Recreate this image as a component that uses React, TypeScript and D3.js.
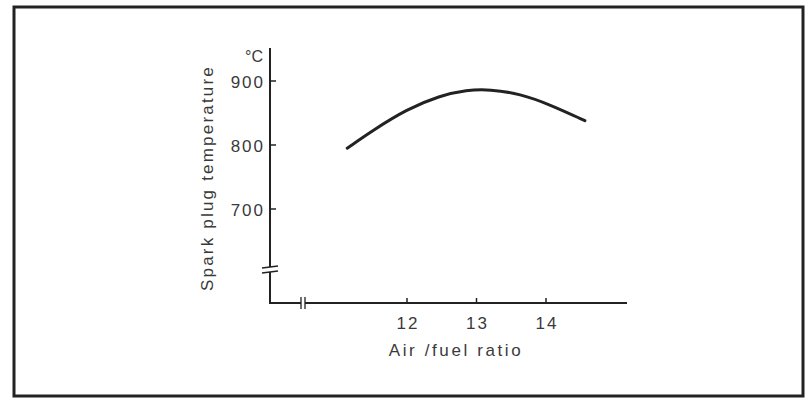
import React, { useEffect, useRef } from "react";
import * as d3 from "d3";

// air/fuel ratio vs spark plug temperature (°C)
const ratio = [11.14, 11.51, 12.0, 12.47, 12.86, 13.19, 13.63, 14.06, 14.56];
const temp = [795, 823, 856, 877, 886, 887, 880, 863, 838];
const xTicks = [12, 13, 14];
const yTicks = [700, 800, 900];

const App = () => {
  const visual = useRef<SVGSVGElement>(null);

  useEffect(() => {
    const width = 808;
    const height = 400;
    const ink = "#222";
    const textInk = "#3a3a3a";
    const font = "'Liberation Sans', Arial, sans-serif";

    const svg = d3.select(visual.current).attr("width", width).attr("height", height);
    svg.selectAll("*").remove();

    // frame
    svg
      .append("rect")
      .attr("x", 14)
      .attr("y", 7)
      .attr("width", 789)
      .attr("height", 389)
      .attr("fill", "white")
      .attr("stroke", ink)
      .attr("stroke-width", 3);

    // scales (axes are broken, so the origin is not a data value)
    const xScale = d3.scaleLinear().domain([12, 14]).range([407, 546]);
    const yScale = d3.scaleLinear().domain([700, 900]).range([209, 81]);

    const x0 = 270;
    const y0 = 303;

    // axis lines
    svg
      .append("path")
      .attr("d", `M${x0},48 V${y0} H627`)
      .attr("fill", "none")
      .attr("stroke", ink)
      .attr("stroke-width", 2);

    // y ticks
    const yt = svg.append("g");
    yt.selectAll("line")
      .data(yTicks)
      .join("line")
      .attr("x1", x0)
      .attr("x2", x0 + 6)
      .attr("y1", d => yScale(d))
      .attr("y2", d => yScale(d))
      .attr("stroke", ink)
      .attr("stroke-width", 1.5);
    yt.selectAll("text")
      .data(yTicks)
      .join("text")
      .attr("x", x0 - 5)
      .attr("y", d => yScale(d) + 1)
      .attr("dy", "0.36em")
      .attr("text-anchor", "end")
      .attr("font-family", font)
      .attr("font-size", 17)
      .attr("letter-spacing", 2)
      .attr("fill", textInk)
      .text(d => d);

    // x ticks
    const xt = svg.append("g");
    xt.selectAll("line")
      .data(xTicks)
      .join("line")
      .attr("x1", d => xScale(d))
      .attr("x2", d => xScale(d))
      .attr("y1", y0)
      .attr("y2", y0 - 5)
      .attr("stroke", ink)
      .attr("stroke-width", 1.5);
    xt.selectAll("text")
      .data(xTicks)
      .join("text")
      .attr("x", d => xScale(d) + 1)
      .attr("y", 329)
      .attr("text-anchor", "middle")
      .attr("font-family", font)
      .attr("font-size", 17)
      .attr("letter-spacing", 2)
      .attr("fill", textInk)
      .text(d => d);

    // axis breaks
    svg
      .append("rect")
      .attr("x", x0 - 8)
      .attr("y", 267)
      .attr("width", 16)
      .attr("height", 5)
      .attr("fill", "white");
    svg
      .append("path")
      .attr("d", `M${x0 - 8},268 L${x0 + 8},266 M${x0 - 8},273 L${x0 + 8},271`)
      .attr("stroke", ink)
      .attr("stroke-width", 1.3);
    svg
      .append("rect")
      .attr("x", 301)
      .attr("y", y0 - 6)
      .attr("width", 4)
      .attr("height", 12)
      .attr("fill", "white");
    svg
      .append("path")
      .attr("d", `M301,${y0 - 6} V${y0 + 6} M305,${y0 - 6} V${y0 + 6}`)
      .attr("stroke", ink)
      .attr("stroke-width", 1.3);

    // unit and titles
    svg
      .append("text")
      .attr("x", 263)
      .attr("y", 62)
      .attr("text-anchor", "end")
      .attr("font-family", font)
      .attr("font-size", 16)
      .attr("fill", textInk)
      .text("°C");
    svg
      .append("text")
      .attr("transform", "translate(213,178) rotate(-90)")
      .attr("text-anchor", "middle")
      .attr("font-family", font)
      .attr("font-size", 17)
      .attr("letter-spacing", 2.2)
      .attr("fill", textInk)
      .text("Spark plug temperature");
    svg
      .append("text")
      .attr("x", 456)
      .attr("y", 356)
      .attr("text-anchor", "middle")
      .attr("font-family", font)
      .attr("font-size", 17)
      .attr("letter-spacing", 2.6)
      .attr("fill", textInk)
      .text("Air /fuel ratio");

    // curve
    const line = d3
      .line<number>()
      .x((d, i) => xScale(ratio[i]))
      .y(d => yScale(d))
      .curve(d3.curveBasis);
    svg
      .append("path")
      .attr("d", line(temp))
      .attr("fill", "none")
      .attr("stroke", ink)
      .attr("stroke-width", 3)
      .attr("stroke-linecap", "round");
  }, []);

  return <svg ref={visual} style={{ position: "absolute", left: 0, top: 0 }} />;
};

export default App;
